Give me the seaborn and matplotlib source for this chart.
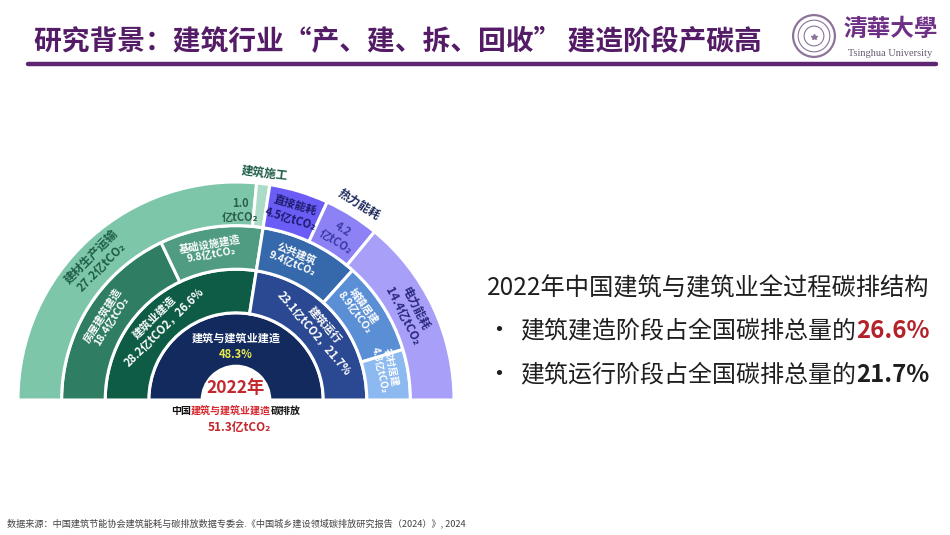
import numpy as np
import matplotlib
matplotlib.use('Agg')
import matplotlib.pyplot as plt
from matplotlib.lines import Line2D
from matplotlib.patches import Circle
import seaborn as sns

# data (亿tCO2)
total_value = 51.3
total_share = '48.3%'
ring1_labels = ['建筑与建筑业建造']
ring1_values = [51.3]
ring2_labels = ['建筑业建造', '建筑运行']
ring2_values = [28.2, 23.1]
ring2_shares = ['26.6%', '21.7%']
ring3_labels = ['房屋建筑建造', '基础设施建造', '公共建筑', '城镇居建', '农村居建']
ring3_values = [18.4, 9.8, 9.4, 8.9, 4.8]
ring4_labels = ['建材生产运输', '建筑施工', '直接能耗', '热力能耗', '电力能耗']
ring4_values = [27.2, 1.0, 4.5, 4.2, 14.4]
build_share = '26.6%'
run_share = '21.7%'

ring1_colors = ['#132a5f']
ring2_colors = ['#0e5c45', '#2b4892']
ring3_colors = ['#2f7d63', '#4f9c82', '#3569ab', '#5a8fd6', '#8cb9f0']
ring4_colors = ['#7ec6a9', '#acdcc7', '#6a5cf4', '#8c82f6', '#a89ff9']

sns.set_theme(style='white')
plt.rcParams['font.family'] = ['Noto Sans CJK SC', 'DejaVu Sans']

W, H = 950, 535
DPI = 100
fig = plt.figure(figsize=(9.5, 5.35), dpi=DPI)
fig.patch.set_facecolor('white')


def fx(x):
    return x / W


def fy(y):
    return 1 - y / H


# sunburst axes: centre (CX, CY) px, outer radius R px
CX, CY, R = 236, 400, 218
a_l, a_r, a_t, a_b = 0, 476, 150, 450
ax = fig.add_axes([fx(a_l), fy(a_b), (a_r - a_l) / W, (a_b - a_t) / H])


def ring(values, colors, r_out, width):
    vals = list(values) + [sum(values)]
    wedges, _ = ax.pie(vals, radius=r_out, startangle=180, counterclock=False,
                       colors=list(colors) + ['white'],
                       wedgeprops=dict(width=width, edgecolor='white', linewidth=2.2))
    wedges[-1].set_visible(False)


def mids(values):
    cum = np.concatenate([[0], np.cumsum(values)])
    a = 180 - cum / total_value * 180
    return (a[:-1] + a[1:]) / 2


ring(ring1_values, ring1_colors, 0.4, 0.4 - 0.155)
ring(ring2_values, ring2_colors, 0.6, 0.2)
ring(ring3_values, ring3_colors, 0.8, 0.2)
ring(ring4_values, ring4_colors, 1.0, 0.2)
ax.set_aspect('auto')
ax.set_xlim((a_l - CX) / R, (a_r - CX) / R)
ax.set_ylim((CY - a_b) / R, (CY - a_t) / R)
ax.axis('off')


def arc_text(theta, r, s, color, size=8, rot=None, weight='bold'):
    t = np.deg2rad(theta)
    if rot is None:
        rot = theta - 90
    ax.text(r * np.cos(t), r * np.sin(t), s, color=color, fontsize=size,
            fontweight=weight, rotation=rot, rotation_mode='anchor',
            ha='center', va='center', linespacing=1.15)


# outer ring labels
m4 = mids(ring4_values)
arc_text(m4[0] + 3, 0.9, f'{ring4_labels[0]}\n{ring4_values[0]}亿tCO₂', '#1e5e47', 8.5)
arc_text(m4[1] + 6, 0.87, f'{ring4_values[1]}\n亿tCO₂', '#2b5e4b', 8, rot=0)
arc_text(m4[1], 1.05, ring4_labels[1], '#1e5e47', 8.5)
arc_text(m4[2], 0.9, f'{ring4_labels[2]}\n{ring4_values[2]}亿tCO₂', '#1c1c6e', 8)
arc_text(m4[3], 1.06, ring4_labels[3], '#1f2a5c', 8.5)
arc_text(m4[3], 0.89, f'{ring4_values[3]}\n亿tCO₂', '#3b3ba6', 8)
arc_text(m4[4] + 1.5, 0.89, f'{ring4_labels[4]}\n{ring4_values[4]}亿tCO₂', '#2a2a7c', 8.5)

# third ring labels
m3 = mids(ring3_values)
offs3 = [0, 1.5, 3, 4, 3.5]
for i, (lab, v) in enumerate(zip(ring3_labels, ring3_values)):
    arc_text(m3[i] + offs3[i], 0.7, f'{lab}\n{v}亿tCO₂', 'white', 7.5 if i < 4 else 7)

# second ring labels
m2 = mids(ring2_values)
arc_text(m2[0] + 4, 0.5, f'{ring2_labels[0]}\n{ring2_values[0]}亿tCO2，{ring2_shares[0]}', 'white', 8)
arc_text(m2[1], 0.5, f'{ring2_labels[1]}\n{ring2_values[1]}亿tCO2，{ring2_shares[1]}', 'white', 8)

# inner ring + centre
ax.text(0, (CY - 338) / R, ring1_labels[0], color='white', fontsize=8,
        fontweight='bold', ha='center', va='center')
ax.text(0, (CY - 354) / R, total_share, color='#e8ea4c', fontsize=8,
        fontweight='bold', ha='center', va='center')
ax.text(0, (CY - 388) / R, '2022年', color='#c3282e', fontsize=12.5,
        fontweight='bold', ha='center', va='center')


# mixed-colour lines; CJK prefixes advance 1em per character,
# sizes picked so that 1em is a whole number of pixels
def runs(x, y, parts, em, ha='left'):
    size = em * 72 / DPI
    lens = [len(p[0]) for p in parts]
    start = x - sum(lens) * em / 2 if ha == 'center' else x
    for (s, c, w), n in zip(parts, lens):
        fig.text(fx(start), fy(y), s, color=c, fontsize=size, fontweight=w,
                 ha='left', va='center')
        start += n * em


runs(CX, 411, [('中国', '#111111', 'bold'), (ring1_labels[0], '#d6262c', 'bold'),
               ('碳排放', '#111111', 'bold')], 10, ha='center')
fig.text(fx(CX + 3), fy(428), f'{total_value}亿tCO₂', color='#c3282e', fontsize=8.5,
         fontweight='bold', ha='center', va='center')

# header
fig.text(fx(34), fy(42), '研究背景：建筑行业“产、建、拆、回收” 建造阶段产碳高',
         color='#541c66', fontsize=20, fontweight='bold', ha='left', va='center')
fig.add_artist(Line2D([fx(28), fx(936)], [fy(64), fy(64)], color='#5f2571', lw=3.2))

# logo
lax = fig.add_axes([fx(792), fy(58), 44 / W, 44 / H])
lax.set_xlim(-1, 1)
lax.set_ylim(-1, 1)
lax.set_aspect('equal')
lax.axis('off')
for rr, lw in [(0.95, 1.6), (0.72, 0.8), (0.45, 0.8)]:
    lax.add_patch(Circle((0, 0), rr, fill=False, ec='#8c7399', lw=lw))
lax.plot(0, -0.05, marker='*', color='#8c7399', ms=4)
fig.text(fx(891), fy(29), '清華大學', family=['Noto Sans CJK TC', 'DejaVu Sans'],
         color='#6e2f86', fontsize=17, fontweight='bold', ha='center', va='center')
fig.text(fx(890), fy(54), 'Tsinghua University', family=['Liberation Serif'],
         color='#6a5a70', fontsize=7.5, ha='center', va='center')

# right side text
fig.text(fx(487), fy(288), '2022年中国建筑与建筑业全过程碳排结构', color='#1e1e1e',
         fontsize=17.5, ha='left', va='center')
fig.text(fx(499), fy(331), '•', color='#1e1e1e', fontsize=18, ha='center', va='center')
runs(520, 331, [('建筑建造阶段占全国碳排总量的', '#1e1e1e', 'normal'),
                (build_share, '#b3222a', 'bold')], 24)
fig.text(fx(499), fy(375), '•', color='#1e1e1e', fontsize=18, ha='center', va='center')
runs(520, 375, [('建筑运行阶段占全国碳排总量的', '#1e1e1e', 'normal'),
                (run_share, '#1e1e1e', 'bold')], 24)

# source
fig.text(fx(7), fy(523), '数据来源：中国建筑节能协会建筑能耗与碳排放数据专委会.《中国城乡建设领域碳排放研究报告（2024）》, 2024',
         color='#444444', fontsize=6.6, ha='left', va='center')

fig.savefig('out.png', dpi=DPI, facecolor='white')
